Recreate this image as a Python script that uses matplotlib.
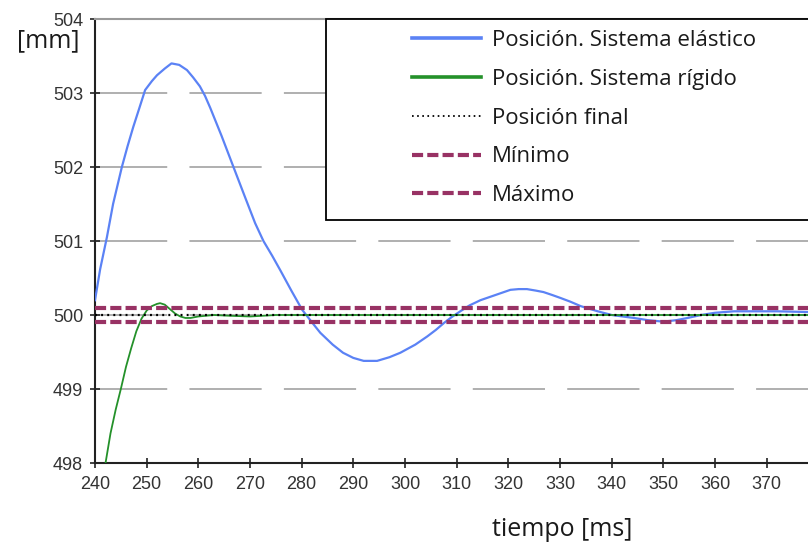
import matplotlib
matplotlib.use("Agg")
import matplotlib.pyplot as plt
from matplotlib.patches import Rectangle

# --- datos ---
t_elastico = [240, 241, 242.3, 243.5, 245.2, 246.3, 247.4, 248.6, 249.7, 251, 252,
              253.5, 254.8, 256.3, 257.8, 259, 260.3, 261.3, 262.3, 264.5, 266.8,
              269, 271, 272.6, 274.3, 275.9, 278, 280.1, 282, 283.6, 286, 288, 290,
              292, 294.6, 297, 299.1, 302, 304.3, 306, 307.5, 309, 310.7, 312.5,
              314.6, 317.5, 320.4, 322, 323.6, 325.3, 326.8, 328.5, 330.1, 332,
              334, 337.3, 340, 344.3, 347, 350, 352.5, 354.7, 357.3, 360, 363.7,
              368, 372, 378]
pos_elastico = [500.2, 500.62, 501.05, 501.5, 502.0, 502.28, 502.54, 502.8, 503.04,
                503.16, 503.24, 503.33, 503.4, 503.38, 503.31, 503.21, 503.09, 502.96,
                502.8, 502.42, 502.0, 501.6, 501.24, 501.0, 500.8, 500.6, 500.33,
                500.07, 499.9, 499.76, 499.6, 499.49, 499.42, 499.38, 499.38, 499.43,
                499.49, 499.6, 499.71, 499.8, 499.89, 499.97, 500.05, 500.13, 500.2,
                500.27, 500.34, 500.35, 500.35, 500.33, 500.31, 500.27, 500.23, 500.18,
                500.12, 500.05, 500.0, 499.96, 499.93, 499.91, 499.93, 499.96, 500.0,
                500.03, 500.05, 500.05, 500.05, 500.04]

t_rigido = [241.8, 243, 244, 245, 246, 247, 248, 249, 250, 251, 252, 252.6, 253.5,
            254.5, 255.5, 256.5, 257.5, 258.5, 260, 263, 266, 270, 275, 280, 290,
            300, 320, 340, 360, 378]
pos_rigido = [497.9, 498.4, 498.72, 499.0, 499.3, 499.55, 499.78, 499.95, 500.06,
              500.12, 500.15, 500.16, 500.14, 500.08, 500.02, 499.98, 499.96, 499.96,
              499.98, 500.0, 499.99, 499.98, 500.0, 500.0, 500.0, 500.0, 500.0, 500.0,
              500.0, 500.0]

pos_final = 500.0
minimo = 499.9
maximo = 500.1

x_ticks = list(range(240, 371, 10))
y_ticks = [498, 499, 500, 501, 502, 503, 504]

etiquetas = ['Posición. Sistema elástico', 'Posición. Sistema rígido',
             'Posición final', 'Mínimo', 'Máximo']

W, H = 808, 547
plt.rcParams['lines.scale_dashes'] = False

fig = plt.figure(figsize=(W / 100, H / 100), dpi=100)
ax = fig.add_axes([95 / W, 1 - 463 / H, (W - 95) / W, (463 - 19) / H])

ax.set_xlim(240, 378)
ax.set_ylim(498, 504)

# rejilla de trazos largos
for y in [499, 500, 501, 502, 503]:
    ax.axhline(y, color='#9a9a9a', lw=1.1, dashes=(52, 16), zorder=1)

AZUL = '#5b82f5'
VERDE = '#24912a'
MORADO = '#983264'

ax.plot(t_elastico, pos_elastico, color=AZUL, lw=1.6, zorder=3)
ax.plot(t_rigido, pos_rigido, color=VERDE, lw=1.3, zorder=3)
ax.axhline(minimo, color=MORADO, lw=3.0, dashes=(8, 3), zorder=4)
ax.axhline(maximo, color=MORADO, lw=3.0, dashes=(8, 3), zorder=4)
ax.axhline(pos_final, color='black', lw=1.6, dashes=(1.4, 3), zorder=5)

ax.set_xticks(x_ticks)
ax.set_yticks(y_ticks)
ax.tick_params(direction='inout', length=7, width=1.2, colors='#222222',
               labelsize=13, pad=4)
ax.tick_params(axis='x', pad=6)
ax.tick_params(axis='y', pad=5)
for lab in ax.get_xticklabels() + ax.get_yticklabels():
    lab.set_family('Liberation Sans')
    lab.set_color('#333333')

ax.spines['right'].set_visible(False)
ax.spines['top'].set_color('#9a9a9a')
ax.spines['top'].set_linewidth(1.5)
for lado in ['left', 'bottom']:
    ax.spines[lado].set_linewidth(1.5)
    ax.spines[lado].set_color('#222222')

# caja de la leyenda
caja = Rectangle((326 / W, 1 - 220 / H), (W - 326 + 10) / W, (220 - 19) / H,
                 transform=fig.transFigure, facecolor='white', edgecolor='black',
                 lw=1.3, zorder=10)
fig.patches.append(caja)

manejadores = [
    plt.Line2D([], [], color=AZUL, lw=2.6),
    plt.Line2D([], [], color=VERDE, lw=2.6),
    plt.Line2D([], [], color='black', lw=1.3, dashes=(1.2, 2.5)),
    plt.Line2D([], [], color=MORADO, lw=3.0, dashes=(8, 3)),
    plt.Line2D([], [], color=MORADO, lw=3.0, dashes=(8, 3)),
]
leg = fig.legend(manejadores, etiquetas,
                 loc='upper left', bbox_to_anchor=(401 / W, 1 - 19 / H),
                 frameon=False, borderpad=0, handlelength=3.1, handletextpad=0.5,
                 labelspacing=0.8, prop={'family': 'Open Sans', 'size': 16})
leg.set_zorder(11)
for txt in leg.get_texts():
    txt.set_color('#1a1a1a')

fig.text(48 / W, 1 - 41 / H, '[mm]', family='Open Sans', fontsize=18,
         ha='center', va='center', color='#1a1a1a')
fig.text(562 / W, 1 - 530 / H, 'tiempo [ms]', family='Open Sans', fontsize=18,
         ha='center', va='center', color='#1a1a1a')

fig.savefig('out.png', dpi=100)
